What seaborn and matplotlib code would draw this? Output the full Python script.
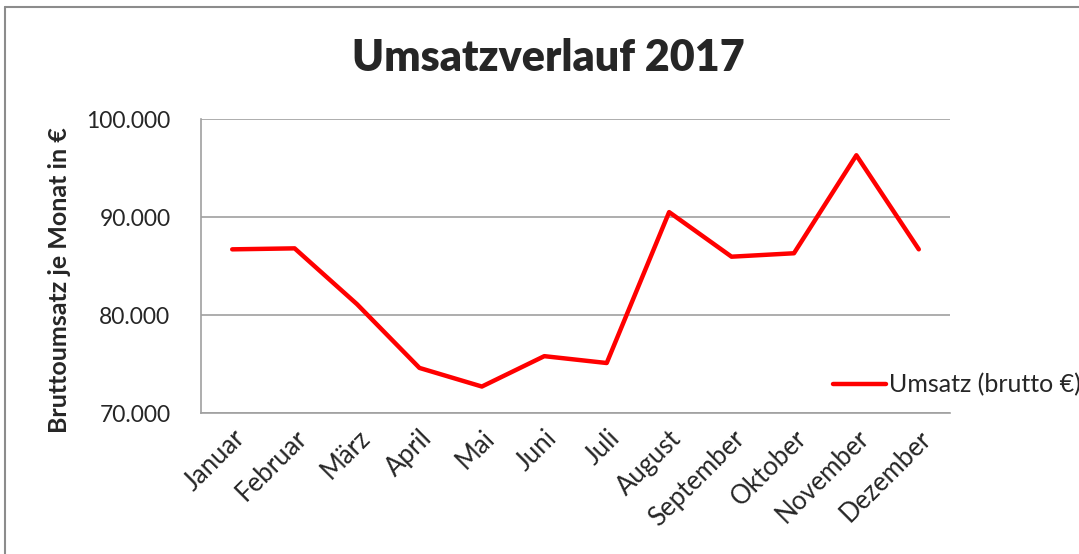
import pandas as pd
import matplotlib.pyplot as plt
import seaborn as sns
from matplotlib.ticker import FuncFormatter
from matplotlib.lines import Line2D

# Daten
monate = ['Januar', 'Februar', 'März', 'April', 'Mai', 'Juni', 'Juli',
          'August', 'September', 'Oktober', 'November', 'Dezember']
umsatz = [86700, 86800, 81100, 74600, 72700, 75800, 75100,
          90500, 85950, 86300, 96300, 86700]
y_ticks = [70000, 80000, 90000, 100000]

df = pd.DataFrame({'Monat': monate, 'Umsatz': umsatz})

sns.set_style('white')
plt.rcParams['font.family'] = ['Lato', 'DejaVu Sans']

fig = plt.figure(figsize=(10.79, 5.54), dpi=100)
ax = fig.add_axes([201 / 1079, 1 - 413 / 554, 749 / 1079, 294 / 554])

sns.lineplot(data=df, x='Monat', y='Umsatz', sort=False, color='#ff0000',
             linewidth=3.2, label='Umsatz (brutto €)', ax=ax)

ax.set_xlim(-0.5, len(monate) - 0.5)
ax.set_ylim(70000, 100000)
ax.set_yticks(y_ticks)
ax.yaxis.set_major_formatter(FuncFormatter(lambda v, p: f'{int(v):,}'.replace(',', '.')))
ax.grid(axis='y', color='#a0a0a0', linewidth=1.2)
ax.set_axisbelow(True)

for s in ['top', 'right']:
    ax.spines[s].set_visible(False)
for s in ['left', 'bottom']:
    ax.spines[s].set_color('#a0a0a0')
    ax.spines[s].set_linewidth(1.2)

ax.tick_params(axis='y', labelsize=16.5, length=0, pad=22)
ax.tick_params(axis='x', labelsize=18.5, length=0, pad=9)
plt.setp(ax.get_xticklabels(), rotation=45, ha='right', rotation_mode='anchor')

ax.set_xlabel('')
ax.set_ylabel('Bruttoumsatz je Monat in €', fontsize=18, fontweight='bold')
ax.yaxis.set_label_coords(71 / 1079, 1 - 280 / 554, transform=fig.transFigure)

fig.suptitle('Umsatzverlauf 2017', fontsize=31, fontweight='heavy', x=548 / 1079, y=1 - 58 / 554,
             va='center')

ax.legend(loc='center left', bbox_to_anchor=(833 / 1079, 1 - 385 / 554),
          bbox_transform=fig.transFigure, frameon=False, fontsize=18,
          handlelength=2.1, handletextpad=0.15, borderaxespad=0, borderpad=0)

# Rahmen um das Diagramm
fig.add_artist(Line2D([5 / 1079, 5 / 1079], [0, 1 - 7 / 554], color='#8c8c8c', linewidth=1.5,
                      transform=fig.transFigure))
fig.add_artist(Line2D([5 / 1079, 1], [1 - 7 / 554, 1 - 7 / 554], color='#8c8c8c', linewidth=1.5,
                      transform=fig.transFigure))

fig.savefig('out.png', dpi=100)
